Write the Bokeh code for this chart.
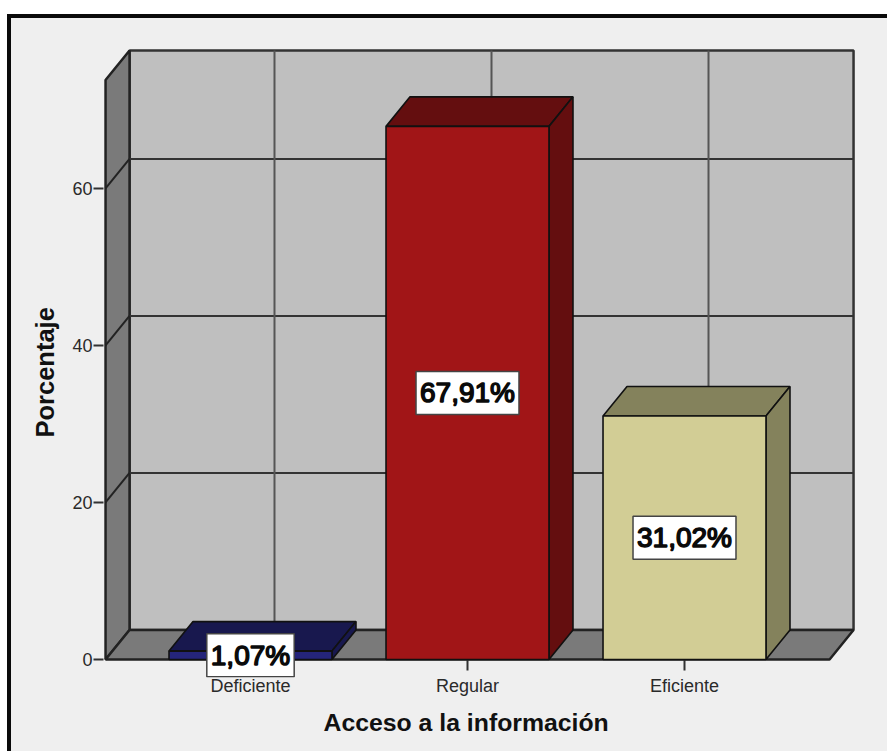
from bokeh.embed import file_html
from bokeh.models import FixedTicker, Label, Range1d, Title
from bokeh.plotting import figure
from bokeh.resources import INLINE

# Chart data
categories = ["Deficiente", "Regular", "Eficiente"]
percentages = [1.07, 67.91, 31.02]
value_labels = ["1,07%", "67,91%", "31,02%"]
y_ticks = [0, 20, 40, 60]
front_colors = ["#25257a", "#a11517", "#d2cd95"]
shade_colors = ["#18184e", "#640e0f", "#84825c"]

# Layout of the pseudo-3D box, in axis units
BAR_WIDTH = 0.751
DEPTH_X = 0.1106
DEPTH_Y = 3.76
X_LEFT, X_RIGHT = -0.668, 2.779
Y_TOP = 77.58
TICK_DROP = 1.4

WALL = "#bfbfbf"
SIDE = "#7a7a7a"
PANEL = "#efefef"
FONT = "Liberation Sans"

# The plot area runs a little past the box, so that outlines and the lowest
# value box are not cut at its edge
p = figure(
    width=880, height=737,
    x_range=Range1d(-0.6774, 2.7926), y_range=Range1d(-2.293, 77.83),
    output_backend="svg", toolbar_location=None,
    min_border_left=92, min_border_right=35, min_border_top=30, min_border_bottom=78,
    styles={
        "margin-left": "7px", "margin-top": "14px",
        "border-left": "4px solid #0a0a0a", "border-top": "4px solid #0a0a0a",
        "background-color": PANEL,
    },
)
p.border_fill_color = None
p.background_fill_color = None
p.outline_line_alpha = 0
p.grid.visible = False

# Walls and floor of the box
p.patch([X_LEFT + DEPTH_X, X_RIGHT, X_RIGHT, X_LEFT + DEPTH_X],
        [DEPTH_Y, DEPTH_Y, Y_TOP, Y_TOP],
        fill_color=WALL, line_color="#333333", line_width=2.5)
p.patch([X_LEFT, X_LEFT + DEPTH_X, X_LEFT + DEPTH_X, X_LEFT],
        [0, DEPTH_Y, Y_TOP, Y_TOP - DEPTH_Y],
        fill_color=SIDE, line_color="#222222", line_width=2.5)
p.patch([X_LEFT, X_RIGHT - DEPTH_X, X_RIGHT, X_LEFT + DEPTH_X],
        [0, 0, DEPTH_Y, DEPTH_Y],
        fill_color=SIDE, line_color="#222222", line_width=2.5)

# Gridlines on the back wall, continued across the side wall
grid_y = y_ticks[1:]
p.segment([X_LEFT + DEPTH_X] * len(grid_y), [t + DEPTH_Y for t in grid_y],
          [X_RIGHT] * len(grid_y), [t + DEPTH_Y for t in grid_y],
          line_color="#333333", line_width=2)
p.segment([X_LEFT] * len(grid_y), grid_y,
          [X_LEFT + DEPTH_X] * len(grid_y), [t + DEPTH_Y for t in grid_y],
          line_color="#222222", line_width=2)
centers = list(range(len(categories)))
p.segment([c + DEPTH_X for c in centers], [DEPTH_Y] * len(centers),
          [c + DEPTH_X for c in centers], [Y_TOP] * len(centers),
          line_color="#555555", line_width=2)

# Category ticks hang from the front edge of the floor
p.segment(centers, [0] * len(centers), centers, [-TICK_DROP] * len(centers),
          line_color="#333333", line_width=2)

# Bars: front face plus shaded top and side faces
for c, v, front, shade in zip(centers, percentages, front_colors, shade_colors):
    x0, x1 = c - BAR_WIDTH / 2, c + BAR_WIDTH / 2
    p.patch([x0, x1, x1 + DEPTH_X, x0 + DEPTH_X],
            [v, v, v + DEPTH_Y, v + DEPTH_Y],
            fill_color=shade, line_color="#111111", line_width=1.6)
    p.patch([x1, x1 + DEPTH_X, x1 + DEPTH_X, x1],
            [0, DEPTH_Y, v + DEPTH_Y, v],
            fill_color=shade, line_color="#111111", line_width=1.6)
    p.quad(left=x0, right=x1, bottom=0, top=v,
           fill_color=front, line_color="#111111", line_width=1.6)

# Axes
p.xaxis.ticker = FixedTicker(ticks=centers)
p.xaxis.major_label_overrides = dict(zip(centers, categories))
p.yaxis.ticker = FixedTicker(ticks=y_ticks)
for axis in (p.xaxis, p.yaxis):
    axis.axis_line_alpha = 0
    axis.minor_tick_line_alpha = 0
    axis.major_tick_in = 0
    axis.major_tick_line_color = "#333333"
    axis.major_tick_line_width = 2
    axis.major_label_text_font = FONT
    axis.major_label_text_font_size = "18px"
    axis.major_label_text_color = "#2a2a2a"
p.yaxis.major_tick_out = 10
p.yaxis.major_label_standoff = 1
p.xaxis.major_tick_out = 0
p.xaxis.major_label_standoff = -2

# Axis titles
p.add_layout(Title(
    text="Acceso a la información", align="left", offset=220, standoff=17,
    text_font=FONT, text_font_style="bold", text_font_size="24.8px", text_color="#111111",
), "below")
p.add_layout(Title(
    text="Porcentaje", align="left", offset=240, standoff=22,
    text_font=FONT, text_font_style="bold", text_font_size="25.5px", text_color="#111111",
), "left")

# Value boxes centred on each bar
for c, v, text in zip(centers, percentages, value_labels):
    p.add_layout(Label(
        x=c, y=v / 2, text=text, text_align="center", text_baseline="middle",
        text_font=FONT, text_font_size="28px", text_color="#0a0a0a",
        text_outline_color="#0a0a0a",
        background_fill_color="white", background_fill_alpha=1,
        border_line_color="#444444", border_line_width=1.5, padding=(4, 6),
    ))

open("out.html", "w").write(file_html(p, INLINE))
